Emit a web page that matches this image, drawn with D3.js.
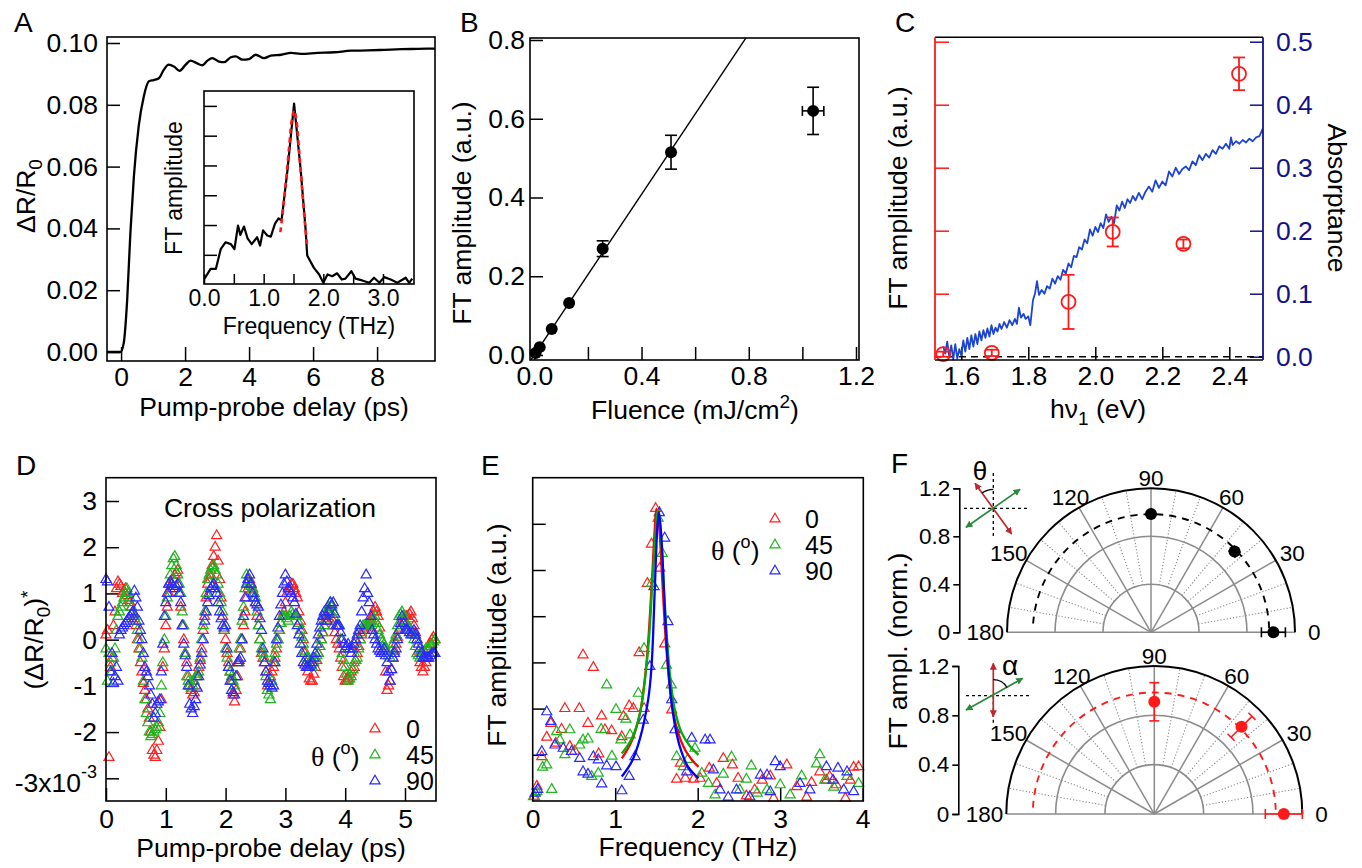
<!DOCTYPE html>
<html>
<head>
<meta charset="utf-8">
<script src="https://cdn.jsdelivr.net/npm/d3@7"></script>
<style>
  body { margin: 0; background: #fff; }
  svg text { font-family: "Liberation Sans", Arial, sans-serif; }
</style>
</head>
<body>
<div id="chart"></div>
<script>
// ---------- data ----------
// A: transient reflectivity
const delayA = [-0.44,-0.02,0.08,0.19,0.29,0.40,0.55,0.71,0.87,1.02,1.18,1.34,1.49,1.65,1.83,2.02,2.17,2.36,2.54,2.70,2.85,3.06,3.22,3.43,3.58,3.79,4.00,4.21,4.47,4.68,5.00,5.31,5.62,6.14,6.67,7.19,7.71,8.23,8.76,9.28,9.81];
const dRA = [0,0,0.0027,0.0168,0.0384,0.0568,0.073,0.0827,0.0876,0.088,0.0886,0.0914,0.093,0.0924,0.091,0.093,0.0943,0.0935,0.0928,0.0943,0.0951,0.094,0.0938,0.0954,0.0957,0.0946,0.0948,0.0962,0.0951,0.0959,0.0962,0.0968,0.0965,0.0968,0.097,0.0975,0.0976,0.0978,0.098,0.0981,0.0982];
// A inset: FT spectrum
const freqI = [0,0.11,0.2,0.28,0.36,0.45,0.51,0.57,0.61,0.67,0.73,0.80,0.89,0.94,0.99,1.06,1.12,1.19,1.25,1.30,1.40,1.51,1.62,1.70,1.73,1.84,1.93,2.0,2.07,2.15,2.23,2.31,2.37,2.47,2.54,2.65,2.77,2.85,2.94,3.02,3.13,3.24,3.38,3.44,3.49];
const ampI = [0.17,0.53,0.53,1.19,1.42,1.36,1.19,1.98,1.67,1.95,1.55,1.36,1.59,1.31,1.82,1.65,1.61,2.05,2.22,2.16,3.86,6.08,3.86,1.93,0.98,0.57,0.34,0.06,0.34,0.28,0.38,0.17,0.2,0.45,0.2,0.14,0.06,0.23,0.06,0.25,0.17,0.06,0.23,0.06,0.2];
const freqFitI = [1.28,1.33,1.38,1.43,1.47,1.51,1.55,1.59,1.64,1.69,1.73];
const ampFitI = [1.76,2.6,3.6,4.7,5.5,5.85,5.5,4.6,3.3,2.1,1.31];

// B: fluence dependence
const fluence = [0.005,0.02,0.065,0.13,0.255,0.51,1.04];
const fluenceErr = [0,0,0,0,0,0,0.04];
const ampB = [0.005,0.02,0.066,0.132,0.27,0.515,0.62];
const ampBErr = [0,0,0,0,0.02,0.043,0.06];
const fitBx = [-0.02,0.80];
const fitBy = [-0.0204,0.816];

// C: pump photon energy
const energyC = [1.546,1.691,1.92,2.052,2.263,2.429];
const ftC = [0.004,0.006,0.087,0.198,0.179,0.449];
const ftCErr = [0.004,0.005,0.043,0.023,0.007,0.026];
const absE = [1.546,1.552,1.558,1.564,1.57,1.576,1.582,1.588,1.594,1.60,1.606,1.612,1.618,1.624,1.63,1.636,1.642,1.648,1.654,1.66,1.666,1.672,1.678,1.684,1.69,1.696,1.702,1.708,1.714,1.72,1.728,1.736,1.744,1.752,1.76,1.766,1.772,1.778,1.786,1.792,1.80,1.806,1.814,1.82,1.826,1.832,1.84,1.848,1.856,1.864,1.872,1.88,1.888,1.896,1.904,1.912,1.92,1.928,1.936,1.944,1.952,1.96,1.968,1.976,1.984,1.992,2.0,2.008,2.016,2.024,2.032,2.04,2.048,2.056,2.064,2.072,2.08,2.088,2.096,2.104,2.112,2.12,2.13,2.14,2.15,2.16,2.17,2.18,2.19,2.2,2.21,2.22,2.23,2.24,2.25,2.26,2.27,2.28,2.29,2.30,2.31,2.32,2.33,2.34,2.35,2.36,2.37,2.38,2.39,2.40,2.405,2.41,2.42,2.43,2.44,2.45,2.46,2.47,2.48,2.49,2.50];
const absA = [0.016,0.005,0.024,0.0,0.018,-0.004,0.02,-0.003,0.012,0.002,0.026,0.008,0.03,0.012,0.034,0.016,0.036,0.02,0.04,0.026,0.042,0.03,0.045,0.032,0.05,0.036,0.046,0.04,0.052,0.044,0.055,0.046,0.058,0.05,0.06,0.052,0.078,0.062,0.068,0.06,0.064,0.05,0.09,0.1,0.12,0.098,0.106,0.1,0.112,0.108,0.124,0.116,0.128,0.122,0.138,0.132,0.148,0.142,0.16,0.158,0.174,0.17,0.186,0.18,0.202,0.192,0.206,0.198,0.212,0.204,0.226,0.214,0.222,0.212,0.24,0.232,0.246,0.236,0.25,0.244,0.255,0.248,0.26,0.25,0.262,0.27,0.262,0.28,0.268,0.278,0.272,0.294,0.286,0.3,0.29,0.298,0.302,0.296,0.31,0.304,0.32,0.312,0.322,0.316,0.328,0.322,0.334,0.33,0.338,0.33,0.348,0.336,0.342,0.338,0.344,0.34,0.346,0.342,0.348,0.35,0.362];

// D: cross-polarized oscillations (x 1e-3); two interleaved delay grids
const delayD = d3.range(0, 5.501, 0.05);
const delayDmid = d3.range(0.025, 5.5, 0.05);
const dR0 = [0.1,-2.55,-0.4,0.6,1.25,1.15,1.05,0.95,0.8,0.6,0.3,-0.2,-0.7,-1.1,-1.5,-2.0,-2.5,-2.4,-1.9,-0.6,0.3,1.0,1.2,1.4,1.5,0.7,0.0,-0.5,-1.0,-1.2,-1.0,-0.6,-0.2,0.5,1.2,1.4,1.8,2.25,1.3,0.5,0.0,-0.5,-0.9,-1.35,-0.8,-0.2,0.3,0.9,1.3,1.1,0.8,0.3,-0.3,-0.5,-1.0,-0.8,-0.6,-0.2,0.2,0.5,0.8,1.1,1.2,1.1,0.9,0.4,0.0,-0.5,-0.85,-0.9,-0.6,-0.3,0.0,0.3,0.5,0.6,0.3,0.0,-0.2,-0.6,-0.9,-0.85,-0.7,-0.6,-0.3,0.0,0.2,0.25,0.35,0.5,0.7,0.5,0.0,-0.3,-1.1,-0.9,-0.4,-0.1,0.2,0.3,0.5,0.5,0.6,0.3,0.0,-0.5,-0.7,-0.5,-0.2,0.0,0.0];
const dR0mid = [0.2,-0.6,0.3,1.1,1.2,1.0,1.1,0.85,0.7,0.45,0.0,-0.5,-0.95,-1.3,-1.7,-2.4,-2.55,-2.2,-1.3,-0.2,0.7,1.1,1.3,1.45,1.0,0.3,-0.3,-0.8,-1.1,-1.15,-0.8,-0.45,0.2,0.9,1.3,1.6,2.0,1.7,0.9,0.2,-0.3,-0.7,-1.2,-1.1,-0.5,0.0,0.6,1.1,1.2,1.0,0.5,0.0,-0.4,-0.7,-0.95,-0.7,-0.4,0.0,0.35,0.6,1.0,1.15,1.2,1.0,0.6,0.2,-0.3,-0.7,-0.9,-0.75,-0.45,-0.15,0.15,0.4,0.55,0.45,0.15,-0.1,-0.4,-0.8,-0.9,-0.75,-0.65,-0.45,-0.15,0.1,0.2,0.3,0.4,0.6,0.6,0.25,-0.15,-0.7,-1.0,-0.65,-0.25,0.05,0.25,0.4,0.5,0.55,0.45,0.15,-0.25,-0.6,-0.6,-0.35,-0.1,0.05];
const dR45 = [-0.2,-0.3,-0.7,-0.2,0.5,0.7,0.9,1.1,0.9,0.6,0.4,0.0,-0.4,-1.3,-1.8,-2.1,-2.0,-1.9,-1.6,-0.5,0.5,1.2,1.6,1.8,1.4,1.0,0.3,-0.8,-1.0,-1.0,-0.8,-0.7,0.0,0.6,1.3,1.5,1.6,1.4,1.0,0.6,-0.2,-0.6,-0.8,-1.0,-0.5,0.0,0.7,1.4,1.2,1.1,0.9,0.3,-0.2,-0.4,-1.1,-1.3,-0.5,-0.1,0.2,0.5,0.5,0.4,0.6,0.5,0.5,0.2,-0.1,-0.4,-0.5,-0.6,-0.4,-0.3,0.0,0.3,0.6,0.8,0.6,0.3,0.3,-0.3,-0.6,-0.9,-0.8,-0.5,-0.4,0.0,0.3,0.3,0.3,0.4,0.5,0.2,0.0,-0.1,-0.3,-0.4,-0.1,0.1,0.5,0.6,0.4,0.3,0.2,0.0,-0.3,-0.4,-0.3,-0.2,-0.2,-0.1,0.0];
const dR45mid = [-0.9,-0.5,-0.4,0.2,0.6,0.8,1.0,1.0,0.7,0.5,0.2,-0.2,-0.9,-1.6,-2.0,-2.05,-1.95,-1.8,-1.0,0.0,0.9,1.4,1.75,1.6,1.2,0.6,-0.3,-0.9,-1.05,-0.9,-0.75,-0.4,0.3,1.0,1.4,1.55,1.5,1.2,0.8,0.2,-0.4,-0.7,-0.9,-0.8,-0.2,0.4,1.1,1.3,1.15,1.0,0.6,0.0,-0.3,-0.8,-1.2,-0.9,-0.3,0.0,0.35,0.5,0.45,0.5,0.55,0.5,0.35,0.05,-0.25,-0.45,-0.55,-0.5,-0.35,-0.15,0.15,0.45,0.7,0.7,0.45,0.3,0.0,-0.45,-0.75,-0.85,-0.65,-0.45,-0.2,0.15,0.3,0.3,0.35,0.45,0.35,0.1,-0.05,-0.2,-0.35,-0.25,0.0,0.3,0.55,0.5,0.35,0.25,0.1,-0.15,-0.35,-0.35,-0.25,-0.2,-0.15,-0.05];
const dR90 = [1.3,0.7,-0.3,-0.8,-0.9,0.2,0.3,0.4,0.5,0.6,0.9,0.4,0.0,-0.6,-0.8,-1.2,-1.7,-1.4,-1.3,-0.1,0.8,1.2,1.2,1.1,1.2,0.8,-0.1,-0.6,-1.4,-1.6,-1.3,-0.8,-0.3,0.4,0.8,1.1,1.2,1.0,0.6,0.3,0.3,-0.6,-1.1,-1.2,-0.5,-0.4,0.5,1.2,1.4,1.0,0.8,0.7,0.2,-0.5,-0.9,-1.0,-1.0,0.0,0.5,1.0,1.4,1.1,1.0,0.8,0.3,-0.1,-0.5,-0.6,-0.6,-0.5,-0.3,0.1,0.4,0.6,0.4,0.8,0.8,0.3,0.3,0.0,-0.2,-0.1,-0.3,-0.1,0.1,0.3,0.9,1.4,0.8,0.2,0.0,-0.2,-0.3,-0.2,-0.5,-0.9,-0.4,-0.2,0.2,0.5,0.2,0.2,0.1,0.2,0.0,-0.2,-0.4,-0.4,-0.4,-0.3,-0.3];
const dR90mid = [1.25,-0.7,-0.95,-0.6,0.1,0.25,0.35,0.45,0.55,1.05,0.7,0.2,-0.3,-0.7,-1.0,-1.4,-1.6,-1.35,-0.7,0.5,1.0,1.25,1.15,1.15,1.0,0.3,-0.35,-1.0,-1.5,-1.45,-1.05,-0.55,0.0,0.6,0.95,1.15,1.1,0.8,0.45,0.25,-0.2,-0.9,-1.15,-0.8,-0.45,0.0,0.9,1.3,1.2,0.9,0.75,0.45,-0.2,-0.7,-0.95,-1.05,-0.5,0.25,0.75,1.2,1.25,1.05,0.9,0.55,0.1,-0.3,-0.55,-0.6,-0.55,-0.4,-0.1,0.25,0.5,0.5,0.6,0.75,0.55,0.3,0.15,-0.1,-0.15,-0.2,-0.2,0.0,0.2,0.6,1.1,1.0,0.5,0.1,-0.1,-0.25,-0.25,-0.35,-0.7,-0.65,-0.3,0.0,0.35,0.35,0.2,0.15,0.15,0.1,-0.1,-0.3,-0.4,-0.4,-0.35,-0.3];
const angleLabelsD = ["0", "45", "90"];

// E: FT spectra
const eRedF = [0.02,0.05,0.11,0.17,0.22,0.28,0.35,0.39,0.45,0.51,0.565,0.61,0.67,0.735,0.80,0.835,0.876,0.957,1.08,1.10,1.17,1.22,1.29,1.35,1.39,1.44,1.49,1.54,1.60,1.685,1.745,1.79,1.85,1.95,2.03,2.14,2.23,2.31,2.42,2.49,2.59,2.69,2.78,2.88,2.92,3.08,3.20,3.32,3.38,3.48,3.56,3.60,3.68,3.79,3.85,3.89,3.95];
const eRedA = [0.1,0.32,0.96,1.38,1.68,1.25,1.55,2.0,1.18,1.08,2.0,3.16,1.68,2.89,1.02,1.84,1.54,1.52,1.39,1.83,2.06,2.0,3.21,2.0,4.71,5.56,6.33,5.04,3.40,1.97,0.47,0.82,0.49,0.47,0.49,0.71,0.38,0.92,0.78,0.49,0.11,0.24,0.45,0.54,0.06,0.78,0.31,0.08,0.4,0.63,0.45,0.53,0.35,0.06,0.45,0.73,0.74];
const eGreenF = [0.01,0.05,0.12,0.17,0.23,0.29,0.33,0.39,0.45,0.57,0.61,0.67,0.715,0.795,0.83,0.897,0.96,1.01,1.07,1.13,1.18,1.28,1.35,1.44,1.52,1.57,1.62,1.68,1.745,1.825,1.88,1.967,2.05,2.13,2.21,2.31,2.41,2.51,2.59,2.65,2.72,2.84,3.0,3.12,3.26,3.44,3.48,3.54,3.65,3.81,3.95];
const eGreenA = [0.09,0.2,0.73,0.78,0.25,1.5,1.32,1.0,1.54,1.21,1.32,1.34,0.53,0.6,1.55,2.51,0.97,1.98,1.32,1.77,1.43,2.33,3.3,4.71,6.12,5.36,2.94,2.51,0.96,0.74,0.9,1.14,0.6,0.38,0.13,0.58,0.95,0.24,0.47,0.76,0.17,0.24,0.35,0.13,0.54,0.8,1.0,0.45,0.3,0.53,0.38];
const eBlueF = [0.03,0.06,0.11,0.17,0.22,0.27,0.37,0.47,0.57,0.61,0.67,0.735,0.795,0.836,0.897,1.01,1.08,1.17,1.24,1.34,1.42,1.47,1.535,1.60,1.64,1.685,1.725,1.866,1.927,2.09,2.15,2.19,2.27,2.37,2.47,2.63,2.76,2.84,2.88,2.94,3.0,3.24,3.36,3.56,3.64,3.70,3.77,3.81,3.89];
const eBlueA = [0.17,0.25,1.07,1.93,1.72,1.21,1.14,1.07,0.92,0.63,0.58,0.96,0.89,0.37,0.76,0.74,0.22,0.53,0.96,1.75,2.91,4.64,6.24,5.69,3.88,2.19,1.54,0.63,1.36,1.32,1.32,0.67,0.24,0.08,0.24,0.09,0.56,0.56,0.2,0.85,0.74,0.38,0.24,0.74,0.45,0.71,0.24,0.63,0.2];
const fitRedF = [1.08,1.2,1.3,1.38,1.44,1.48,1.5,1.53,1.57,1.62,1.68,1.75,1.85,1.95,2.01];
const fitRedA = [0.92,1.3,1.9,3.0,4.6,5.9,6.33,6.0,4.8,3.3,2.2,1.55,1.1,0.85,0.74];
const fitGreenF = [1.08,1.2,1.3,1.4,1.46,1.52,1.56,1.6,1.66,1.72,1.8,1.9,2.01];
const fitGreenA = [1.03,1.35,1.9,3.3,5.0,6.3,5.6,4.3,2.8,2.0,1.5,1.2,1.0];
const fitBlueF = [1.08,1.2,1.3,1.4,1.44,1.48,1.51,1.53,1.56,1.6,1.64,1.7,1.78,1.88,2.01];
const fitBlueA = [0.53,0.85,1.35,2.2,2.9,4.6,5.9,6.26,5.7,4.2,2.94,1.9,1.2,0.75,0.49];

// F: polar dependence (normalized)
const polarTicks = [0, 0.4, 0.8, 1.2];
const angTop = [90, 44, 0];
const rTop = [0.985, 0.968, 1.02];
const rTopErr = [0, 0.03, 0.1];
const angBot = [90, 45, 0];
const rBot = [0.91, 1.0, 1.05];
const rBotErr = [0.155, 0.12, 0.15];
const fitRTop = 0.985, fitRBot = 0.985;
const fitAngles = [2, 177];

// ---------- setup ----------
const FF = '"Liberation Sans", Arial, sans-serif';
const FS = 26.5;
const FSI = 23;
const RED = "#ff2020", GREEN = "#1fb51f", BLUE = "#2a2aff";
const svg = d3.select("#chart").append("svg").attr("width", 1362).attr("height", 868);
const defs = svg.append("defs");

function clipRect(id, x0, y0, x1, y1) {
  defs.append("clipPath").attr("id", id).append("rect")
    .attr("x", x0).attr("y", y0).attr("width", x1 - x0).attr("height", y1 - y0);
}
function frame(x0, y0, x1, y1, fill) {
  svg.append("rect").attr("x", x0).attr("y", y0).attr("width", x1 - x0).attr("height", y1 - y0)
    .attr("fill", fill || "none").attr("stroke", "#000").attr("stroke-width", 1.6);
}
function styleAxis(g, fs, color) {
  g.attr("font-family", FF);
  g.select(".domain").remove();
  g.selectAll(".tick line").attr("stroke", color || "#000").attr("stroke-width", 1.5);
  g.selectAll(".tick text").attr("font-size", fs).attr("fill", color || "#000");
}
function label(x, y, segs, opt) {
  opt = opt || {};
  const t = svg.append("text")
    .attr("transform", `translate(${x},${y}) rotate(${opt.rot || 0})`)
    .attr("text-anchor", opt.anchor || "middle")
    .attr("font-size", opt.fs || FS)
    .attr("fill", opt.color || "#000");
  if (opt.ff) t.attr("font-family", opt.ff);
  segs.forEach(s => {
    if (typeof s === "string") s = { t: s };
    const ts = t.append("tspan").text(s.t);
    if (s.dy) ts.attr("dy", s.dy);
    if (s.fs) ts.attr("font-size", s.fs);
    if (s.ff) ts.attr("font-family", s.ff);
  });
  return t;
}
const zip = (a, b) => a.map((v, i) => [v, b[i]]);
const tri = d3.symbol().type(d3.symbolTriangle).size(44);
const intFmt = d3.format("d");

// ---------- Panel A ----------
const xA = d3.scaleLinear([-0.44, 9.81], [107, 435]);
const yA = d3.scaleLinear([0, 0.1], [352, 43]);
clipRect("clipA", 107, 37, 435, 361);
svg.append("g").attr("transform", "translate(0,361)")
  .call(d3.axisBottom(xA).tickValues([0, 2, 4, 6, 8]).tickSize(-14).tickPadding(6).tickFormat(intFmt))
  .call(g => styleAxis(g, FS));
svg.append("g").attr("transform", "translate(107,0)")
  .call(d3.axisLeft(yA).tickValues([0, 0.02, 0.04, 0.06, 0.08, 0.1]).tickSize(-13).tickPadding(9).tickFormat(d3.format(".2f")))
  .call(g => styleAxis(g, FS));
svg.append("path").attr("clip-path", "url(#clipA)")
  .attr("d", d3.line().x(d => xA(d[0])).y(d => yA(d[1])).curve(d3.curveMonotoneX)(zip(delayA, dRA)))
  .attr("fill", "none").attr("stroke", "#000").attr("stroke-width", 2.3);
frame(107, 37, 435, 361);

// inset
const xI = d3.scaleLinear([0, 3.52], [204, 414]);
const yI = d3.scaleLinear([0, 6.5], [284.6, 91]);
frame(204, 91, 414, 284, "#fff");
svg.append("g").attr("transform", "translate(0,284)")
  .call(d3.axisBottom(xI).tickValues([0, 0.5, 1, 1.5, 2, 2.5, 3]).tickSize(-10).tickPadding(6)
    .tickFormat(d => (d % 1 === 0 ? d3.format(".1f")(d) : "")))
  .call(g => styleAxis(g, FSI));
svg.append("g").attr("transform", "translate(204,0)")
  .call(d3.axisLeft(yI).tickValues([1, 2, 3, 4, 5, 6]).tickSize(-13).tickFormat(""))
  .call(g => styleAxis(g, FSI));
clipRect("clipI", 204, 91, 414, 284);
svg.append("path").attr("clip-path", "url(#clipI)")
  .attr("d", d3.line().x(d => xI(d[0])).y(d => yI(d[1]))(zip(freqI, ampI)))
  .attr("fill", "none").attr("stroke", "#000").attr("stroke-width", 2.2).attr("stroke-linejoin", "round");
svg.append("path")
  .attr("d", d3.line().x(d => xI(d[0])).y(d => yI(d[1])).curve(d3.curveCatmullRom)(zip(freqFitI, ampFitI)))
  .attr("fill", "none").attr("stroke", "#ff1a1a").attr("stroke-width", 2.6).attr("stroke-dasharray", "5,4");
label(309, 334, ["Frequency (THz)"], { fs: FSI });
label(182, 188, ["FT amplitude"], { fs: FSI, rot: -90 });

label(274, 416, ["Pump-probe delay (ps)"]);
label(35, 196, ["ΔR/R", { t: "0", fs: 19, dy: 7 }], { rot: -90 });
label(14, 32, ["A"], { anchor: "start", fs: 28 });

// ---------- Panel B ----------
const xB = d3.scaleLinear([0, 1.2], [534.3, 856]);
const yB = d3.scaleLinear([0, 0.8], [355, 40]);
clipRect("clipB", 530, 38, 859, 360);
const bxLabels = ["0.0", "", "0.4", "", "0.8", "", "1.2"];
svg.append("g").attr("transform", "translate(0,360)")
  .call(d3.axisBottom(xB).tickValues([0, 0.2, 0.4, 0.6, 0.8, 1.0, 1.2]).tickSize(-13).tickPadding(6).tickFormat((d, i) => bxLabels[i]))
  .call(g => styleAxis(g, FS));
svg.append("g").attr("transform", "translate(530,0)")
  .call(d3.axisLeft(yB).tickValues([0, 0.2, 0.4, 0.6, 0.8]).tickSize(-13).tickPadding(5).tickFormat(d3.format(".1f")))
  .call(g => styleAxis(g, FS));
svg.append("path").attr("clip-path", "url(#clipB)")
  .attr("d", d3.line().x(d => xB(d[0])).y(d => yB(d[1]))(zip(fitBx, fitBy)))
  .attr("stroke", "#000").attr("stroke-width", 1.4);
const bPts = fluence.map((f, i) => ({ x: f, y: ampB[i], ex: fluenceErr[i], ey: ampBErr[i] }));
const gB = svg.append("g").attr("stroke", "#000").attr("stroke-width", 1.6);
bPts.filter(d => d.ey > 0).forEach(d => {
  gB.append("line").attr("x1", xB(d.x)).attr("x2", xB(d.x)).attr("y1", yB(d.y - d.ey)).attr("y2", yB(d.y + d.ey));
  [d.y - d.ey, d.y + d.ey].forEach(v => gB.append("line").attr("x1", xB(d.x) - 6).attr("x2", xB(d.x) + 6).attr("y1", yB(v)).attr("y2", yB(v)));
});
bPts.filter(d => d.ex > 0).forEach(d => {
  gB.append("line").attr("x1", xB(d.x - d.ex)).attr("x2", xB(d.x + d.ex)).attr("y1", yB(d.y)).attr("y2", yB(d.y));
  [d.x - d.ex, d.x + d.ex].forEach(v => gB.append("line").attr("x1", xB(v)).attr("x2", xB(v)).attr("y1", yB(d.y) - 5).attr("y2", yB(d.y) + 5));
});
svg.append("g").selectAll("circle").data(bPts).join("circle")
  .attr("cx", d => xB(d.x)).attr("cy", d => yB(d.y)).attr("r", 6).attr("fill", "#000");
frame(530, 38, 859, 360);
label(695, 419, ["Fluence (mJ/cm", { t: "2", fs: 19, dy: -11 }, { t: ")", dy: 11 }]);
label(471, 213, ["FT amplitude (a.u.)"], { rot: -90 });
label(460, 32, ["B"], { anchor: "start", fs: 28 });

// ---------- Panel C ----------
const xC = d3.scaleLinear([1.6, 2.4], [961.3, 1229.3]);
const yC = d3.scaleLinear([0, 0.5], [356.7, 41.7]);
clipRect("clipC", 935, 37, 1263, 360);
svg.append("g").attr("transform", "translate(0,360)")
  .call(d3.axisBottom(xC).tickValues([1.6, 1.8, 2.0, 2.2, 2.4]).tickSize(-13).tickPadding(6).tickFormat(d3.format(".1f")))
  .call(g => styleAxis(g, FS));
svg.append("g").attr("transform", "translate(935,0)")
  .call(d3.axisLeft(yC).tickValues([0.1, 0.2, 0.3, 0.4, 0.5]).tickSize(-14).tickFormat(""))
  .call(g => styleAxis(g, FS, "#ff1a1a"));
svg.append("g").attr("transform", "translate(1263,0)")
  .call(d3.axisRight(yC).tickValues([0, 0.1, 0.2, 0.3, 0.4, 0.5]).tickSize(-13).tickPadding(13).tickFormat(d3.format(".1f")))
  .call(g => styleAxis(g, FS, "#12128c"));
svg.append("line").attr("x1", 935).attr("x2", 1263).attr("y1", yC(0)).attr("y2", yC(0))
  .attr("stroke", "#000").attr("stroke-width", 1.5).attr("stroke-dasharray", "7,5");
svg.append("path").attr("clip-path", "url(#clipC)")
  .attr("d", d3.line().x(d => xC(d[0])).y(d => yC(d[1]))(zip(absE, absA)))
  .attr("fill", "none").attr("stroke", "#1c44d2").attr("stroke-width", 1.8).attr("stroke-linejoin", "round");
const gC = svg.append("g").attr("stroke", "#ff1a1a").attr("stroke-width", 1.8).attr("fill", "none");
energyC.forEach((e, i) => {
  const x = xC(e), v = ftC[i], er = ftCErr[i];
  gC.append("line").attr("x1", x).attr("x2", x).attr("y1", yC(v - er)).attr("y2", yC(v + er));
  [v - er, v + er].forEach(w => gC.append("line").attr("x1", x - 6).attr("x2", x + 6).attr("y1", yC(w)).attr("y2", yC(w)));
  gC.append("circle").attr("cx", x).attr("cy", yC(v)).attr("r", 7);
});
// frame: black top/bottom, red left, blue right
svg.append("line").attr("x1", 935).attr("x2", 1263).attr("y1", 37.3).attr("y2", 37.3).attr("stroke", "#000").attr("stroke-width", 1.6);
svg.append("line").attr("x1", 935).attr("x2", 1263).attr("y1", 360).attr("y2", 360).attr("stroke", "#000").attr("stroke-width", 1.6);
svg.append("line").attr("x1", 935).attr("x2", 935).attr("y1", 37.3).attr("y2", 360).attr("stroke", "#ff1a1a").attr("stroke-width", 1.8);
svg.append("line").attr("x1", 1263).attr("x2", 1263).attr("y1", 37.3).attr("y2", 360).attr("stroke", "#12128c").attr("stroke-width", 1.8);
label(1098, 418, ["hν", { t: "1", fs: 19, dy: 7 }, { t: " (eV)", dy: -7 }]);
label(907, 198, ["FT amplitude (a.u.)"], { rot: -90 });
label(1328, 198, ["Absorptance"], { rot: 90 });
label(895, 32, ["C"], { anchor: "start", fs: 28 });

// ---------- Panel D ----------
const xD = d3.scaleLinear([0, 5], [106, 405]);
const yD = d3.scaleLinear([-3, 3], [778.3, 501]);
svg.append("g").attr("transform", "translate(0,801)")
  .call(d3.axisBottom(xD).tickValues([0, 1, 2, 3, 4, 5]).tickSize(-13).tickPadding(8).tickFormat(intFmt))
  .call(g => styleAxis(g, FS));
svg.append("g").attr("transform", "translate(106,0)")
  .call(d3.axisLeft(yD).tickValues([-3, -2, -1, 0, 1, 2, 3]).tickSize(-13).tickPadding(9).tickFormat(d => (d === -3 ? "" : String(d))))
  .call(g => styleAxis(g, FS));
label(97, 792, ["-3x10", { t: "-3", fs: 18, dy: -14 }], { anchor: "end" });
const dSeries = [[dR0, dR0mid, RED], [dR45, dR45mid, GREEN], [dR90, dR90mid, BLUE]];
dSeries.forEach(([vals, mids, col]) => {
  const pts = delayD.map((t, i) => [t, vals[i]]).concat(delayDmid.map((t, i) => [t, mids[i]]));
  svg.append("g").selectAll("path").data(pts).join("path")
    .attr("d", tri).attr("transform", d => `translate(${xD(d[0])},${yD(d[1])})`)
    .attr("fill", "none").attr("stroke", col).attr("stroke-width", 1.2);
});
frame(106, 477.7, 436, 801);
label(270, 517, ["Cross polarization"]);
// legend D
[[729, RED], [755, GREEN], [781, BLUE]].forEach(([y, col], i) => {
  svg.append("path").attr("d", tri).attr("transform", `translate(375,${y})`)
    .attr("fill", "none").attr("stroke", col).attr("stroke-width", 1.2);
  label(406, y + 9, [angleLabelsD[i]], { anchor: "start", fs: 25 });
});
label(311, 766, [{ t: "θ", ff: '"Liberation Serif", serif', fs: 28 }, " (", { t: "o", fs: 18, dy: -12 }, { t: ")", dy: 12 }], { anchor: "start" });
label(271, 857, ["Pump-probe delay (ps)"]);
label(43, 640, ["(ΔR/R", { t: "0", fs: 19, dy: 7 }, { t: ")", dy: -7 }, { t: "*", fs: 19, dy: -9 }], { rot: -90 });
label(16, 475, ["D"], { anchor: "start", fs: 28 });

// ---------- Panel E ----------
const xE = d3.scaleLinear([0, 4], [532.7, 862.7]);
const yE = d3.scaleLinear([0, 7], [801, 477.6]);
svg.append("g").attr("transform", "translate(0,801)")
  .call(d3.axisBottom(xE).tickValues([0, 1, 2, 3, 4]).tickSize(-13).tickPadding(8).tickFormat(intFmt))
  .call(g => styleAxis(g, FS));
svg.append("g").attr("transform", "translate(532.7,0)")
  .call(d3.axisLeft(yE).tickValues([1, 2, 3, 4, 5, 6]).tickSize(-13).tickFormat(""))
  .call(g => styleAxis(g, FS));
const eSeries = [[eRedF, eRedA, RED], [eGreenF, eGreenA, GREEN], [eBlueF, eBlueA, BLUE]];
eSeries.forEach(([fs, as, col]) => {
  svg.append("g").selectAll("path").data(zip(fs, as)).join("path")
    .attr("d", tri).attr("transform", d => `translate(${xE(d[0])},${yE(d[1])})`)
    .attr("fill", "none").attr("stroke", col).attr("stroke-width", 1.2);
});
const eFits = [[fitRedF, fitRedA, "#ff0000"], [fitGreenF, fitGreenA, "#00b000"], [fitBlueF, fitBlueA, "#0000ff"]];
eFits.forEach(([fs, as, col]) => {
  svg.append("path")
    .attr("d", d3.line().x(d => xE(d[0])).y(d => yE(d[1])).curve(d3.curveCatmullRom)(zip(fs, as)))
    .attr("fill", "none").attr("stroke", col).attr("stroke-width", 2.3);
});
frame(532.7, 477.7, 863.3, 801);
[[519, RED], [545, GREEN], [571, BLUE]].forEach(([y, col], i) => {
  svg.append("path").attr("d", tri).attr("transform", `translate(775,${y})`)
    .attr("fill", "none").attr("stroke", col).attr("stroke-width", 1.2);
  label(805, y + 9, [angleLabelsD[i]], { anchor: "start", fs: 25 });
});
label(711, 560, [{ t: "θ", ff: '"Liberation Serif", serif', fs: 28 }, " (", { t: "o", fs: 18, dy: -12 }, { t: ")", dy: 12 }], { anchor: "start" });
label(698, 856, ["Frequency (THz)"]);
label(506, 635, ["FT amplitude (a.u.)"], { rot: -90 });
label(481, 475, ["E"], { anchor: "start", fs: 28 });

// ---------- Panel F ----------
const pol = (cx, cy, r, deg) => [cx + r * Math.cos(deg * Math.PI / 180), cy - r * Math.sin(deg * Math.PI / 180)];
const angLabelOff = { 0: [13, 0, "start"], 30: [16.5, -7, "middle"], 60: [8.5, -10, "middle"], 90: [0, -10, "middle"],
  120: [-8.5, -10, "middle"], 150: [-17.5, -7, "middle"], 180: [-3, 0, "end"] };

function polarPanel(cx, cy, R, axisX, angs, rs, errs, color, fitR) {
  const rS = d3.scaleLinear([0, 1.2], [0, R]);
  const g = svg.append("g");
  // dotted 10-degree lines
  d3.range(10, 180, 10).filter(a => a % 30 !== 0).forEach(a => {
    const p0 = pol(cx, cy, rS(0.4), a), p1 = pol(cx, cy, rS(1.2), a);
    g.append("line").attr("x1", p0[0]).attr("y1", p0[1]).attr("x2", p1[0]).attr("y2", p1[1])
      .attr("stroke", "#8a8a8a").attr("stroke-width", 1.1).attr("stroke-dasharray", "1.2,2");
  });
  // solid spokes
  [30, 60, 90, 120, 150].forEach(a => {
    const p1 = pol(cx, cy, R, a);
    g.append("line").attr("x1", cx).attr("y1", cy).attr("x2", p1[0]).attr("y2", p1[1])
      .attr("stroke", "#8c8c8c").attr("stroke-width", 1.5);
  });
  g.append("line").attr("x1", cx - R).attr("x2", cx + R).attr("y1", cy).attr("y2", cy)
    .attr("stroke", "#8c8c8c").attr("stroke-width", 1.6);
  [0.4, 0.8, 1.2].forEach(v => {
    const p = d3.path();
    p.moveTo(cx + rS(v), cy);
    p.arc(cx, cy, rS(v), 0, -Math.PI, true);
    g.append("path").attr("d", p.toString()).attr("fill", "none")
      .attr("stroke", v === 1.2 ? "#000" : "#8c8c8c").attr("stroke-width", v === 1.2 ? 2 : 1.6);
  });
  // fit arc
  const fp = d3.path();
  const a0 = -fitAngles[0] * Math.PI / 180, a1 = -fitAngles[1] * Math.PI / 180;
  fp.moveTo(cx + rS(fitR) * Math.cos(a0), cy + rS(fitR) * Math.sin(a0));
  fp.arc(cx, cy, rS(fitR), a0, a1, true);
  g.append("path").attr("d", fp.toString()).attr("fill", "none").attr("stroke", color)
    .attr("stroke-width", 1.9).attr("stroke-dasharray", "7,6");
  // error bars and points
  angs.forEach((a, i) => {
    const e = errs[i];
    if (e > 0) {
      const p0 = pol(cx, cy, rS(rs[i] - e), a), p1 = pol(cx, cy, rS(rs[i] + e), a);
      g.append("line").attr("x1", p0[0]).attr("y1", p0[1]).attr("x2", p1[0]).attr("y2", p1[1])
        .attr("stroke", color).attr("stroke-width", 1.6);
      const perp = (a + 90) * Math.PI / 180;
      [p0, p1].forEach(p => g.append("line")
        .attr("x1", p[0] - 5 * Math.cos(perp)).attr("y1", p[1] + 5 * Math.sin(perp))
        .attr("x2", p[0] + 5 * Math.cos(perp)).attr("y2", p[1] - 5 * Math.sin(perp))
        .attr("stroke", color).attr("stroke-width", 1.6));
    }
    const c = pol(cx, cy, rS(rs[i]), a);
    g.append("circle").attr("cx", c[0]).attr("cy", c[1]).attr("r", 6).attr("fill", color);
  });
  // angle labels
  [0, 30, 60, 90, 120, 150, 180].forEach(a => {
    const p = pol(cx, cy, R, a), o = angLabelOff[a];
    g.append("text").attr("x", p[0] + o[0]).attr("y", p[1] + o[1]).attr("dy", "0.35em")
      .attr("text-anchor", o[2]).attr("font-size", 22.5).text(a);
  });
  // radial value axis on the left
  const yS = d3.scaleLinear([0, 1.2], [cy, cy - R]);
  svg.append("g").attr("transform", `translate(${axisX},0)`)
    .call(d3.axisLeft(yS).tickValues(polarTicks).tickSize(6).tickPadding(3).tickFormat(d => (d === 0 ? "0" : d3.format(".1f")(d))))
    .call(g2 => {
      g2.attr("font-family", FF);
      g2.select(".domain").attr("stroke", "#000").attr("stroke-width", 1.6);
      g2.selectAll(".tick line").attr("stroke-width", 1.6);
      g2.selectAll(".tick text").attr("font-size", 22.5);
    });
}
polarPanel(1151, 632.3, 144, 959.3, angTop, rTop, rTopErr, "#000", fitRTop);
polarPanel(1154.3, 814, 148, 958.3, angBot, rBot, rBotErr, "#ff1a1a", fitRBot);

// polarization sketches
function arrowMarker(id, col) {
  defs.append("marker").attr("id", id).attr("viewBox", "0 0 10 10").attr("refX", 9).attr("refY", 5)
    .attr("markerWidth", 4.2).attr("markerHeight", 4.2).attr("orient", "auto-start-reverse")
    .append("path").attr("d", "M0,0L10,5L0,10z").attr("fill", col);
}
arrowMarker("arR", "#c0282d");
arrowMarker("arG", "#2a8a3a");
function dashed(x1, y1, x2, y2) {
  svg.append("line").attr("x1", x1).attr("y1", y1).attr("x2", x2).attr("y2", y2)
    .attr("stroke", "#000").attr("stroke-width", 1.3).attr("stroke-dasharray", "3,3");
}
function arrow(x1, y1, x2, y2, col, mk) {
  svg.append("line").attr("x1", x1).attr("y1", y1).attr("x2", x2).attr("y2", y2)
    .attr("stroke", col).attr("stroke-width", 1.7)
    .attr("marker-start", `url(#${mk})`).attr("marker-end", `url(#${mk})`);
}
// top sketch
dashed(964, 508.3, 1027, 508.3);
dashed(993.3, 473, 993.3, 537);
arrow(975, 483.3, 1011.7, 534, "#c0282d", "arR");
arrow(966, 527.3, 1020, 489.3, "#2a8a3a", "arG");
{
  const p = d3.path();
  p.arc(993.3, 508.3, 19, -Math.PI / 2, -126 * Math.PI / 180, true);
  svg.append("path").attr("d", p.toString()).attr("fill", "none").attr("stroke", "#000").attr("stroke-width", 1.2);
}
label(980, 480, ["θ"], { ff: '"Liberation Serif", serif', fs: 26 });
// bottom sketch
dashed(966, 695.7, 1029, 695.7);
dashed(993.3, 695.7, 993.3, 724);
arrow(993.3, 663.3, 993.3, 716.7, "#c0282d", "arR");
arrow(966, 710, 1022.7, 678.3, "#2a8a3a", "arG");
{
  const p = d3.path();
  p.arc(993.3, 695.7, 16, -Math.PI / 2, -31 * Math.PI / 180, false);
  svg.append("path").attr("d", p.toString()).attr("fill", "none").attr("stroke", "#000").attr("stroke-width", 1.2);
}
label(1010, 675, ["α"], { ff: '"Liberation Serif", serif', fs: 28 });

label(907, 651, ["FT ampl. (norm.)"], { rot: -90 });
label(891, 473, ["F"], { anchor: "start", fs: 28 });
</script>
</body>
</html>
